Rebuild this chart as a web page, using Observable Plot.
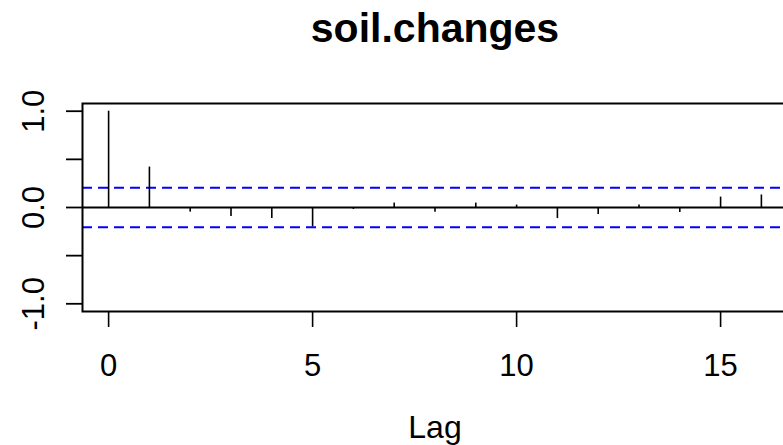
<!DOCTYPE html>
<html>
<head>
<meta charset="utf-8">
<script src="https://cdn.jsdelivr.net/npm/d3@7"></script>
<script src="https://cdn.jsdelivr.net/npm/@observablehq/plot@0.6"></script>
<style>
  html, body { margin: 0; padding: 0; background: #fff; overflow: hidden; }
  #chart svg { display: block; background: #fff; }
</style>
</head>
<body>
<div id="chart"></div>
<script>
const title = "soil.changes";
const xLabel = "Lag";
const lags = [0, 1, 2, 3, 4, 5, 6, 7, 8, 9, 10, 11, 12, 13, 14, 15, 16];
const acfValues = [1.0, 0.42, -0.048, -0.094, -0.115, -0.20, -0.02, 0.046, -0.05, 0.046, 0.025, -0.115, -0.073, 0.025, -0.052, 0.108, 0.13];
const ciBounds = [0.206, -0.206];
const xTicks = [0, 5, 10, 15];
const yTicks = [-1, -0.5, 0, 0.5, 1];
const yLabelValues = [-1, 0, 1];
const yLabelText = ["-1.0", "0.0", "1.0"];

const data = lags.map((lag, i) => ({lag, acf: acfValues[i]}));
const yLabels = yLabelValues.map((v, i) => ({v, t: yLabelText[i]}));
const font = "'Liberation Sans', Arial, Helvetica, sans-serif";

const chart = Plot.plot({
  width: 783,
  height: 445,
  marginLeft: 82,
  marginRight: -4,
  marginTop: 103,
  marginBottom: 134,
  style: {fontFamily: font, background: "#fff", color: "#000", overflow: "hidden"},
  x: {domain: [-0.64, 16.64]},
  y: {domain: [-1.08, 1.08]},
  marks: [
    Plot.ruleY([0], {stroke: "#000", strokeWidth: 2}),
    Plot.ruleY(ciBounds, {stroke: "#0000ff", strokeWidth: 2, strokeDasharray: "10,6"}),
    Plot.ruleX(data, {x: "lag", y1: 0, y2: "acf", stroke: "#000", strokeWidth: 1.6}),
    Plot.frame({stroke: "#000", strokeWidth: 2}),
    Plot.axisX({ticks: xTicks, tickSize: 16, tickFormat: () => "", label: null, stroke: "#000", strokeWidth: 1.6}),
    Plot.axisY({ticks: yTicks, tickSize: 16, tickFormat: () => "", label: null, stroke: "#000", strokeWidth: 1.8}),
    Plot.text(xTicks, {x: d => d, frameAnchor: "bottom", dy: 64, lineAnchor: "bottom", text: d => String(d), fontSize: 31, fill: "#000"}),
    Plot.text(yLabels, {y: "v", text: "t", frameAnchor: "left", dx: -39, rotate: -90, lineAnchor: "bottom", textAnchor: "middle", fontSize: 31, fill: "#000"}),
    Plot.text([xLabel], {frameAnchor: "bottom", dy: 126, lineAnchor: "bottom", fontSize: 32, fill: "#000"}),
    Plot.text([title], {frameAnchor: "top", dy: -62, lineAnchor: "bottom", fontSize: 41, fontWeight: "bold", fill: "#000"})
  ]
});
document.getElementById("chart").appendChild(chart);
</script>
</body>
</html>
